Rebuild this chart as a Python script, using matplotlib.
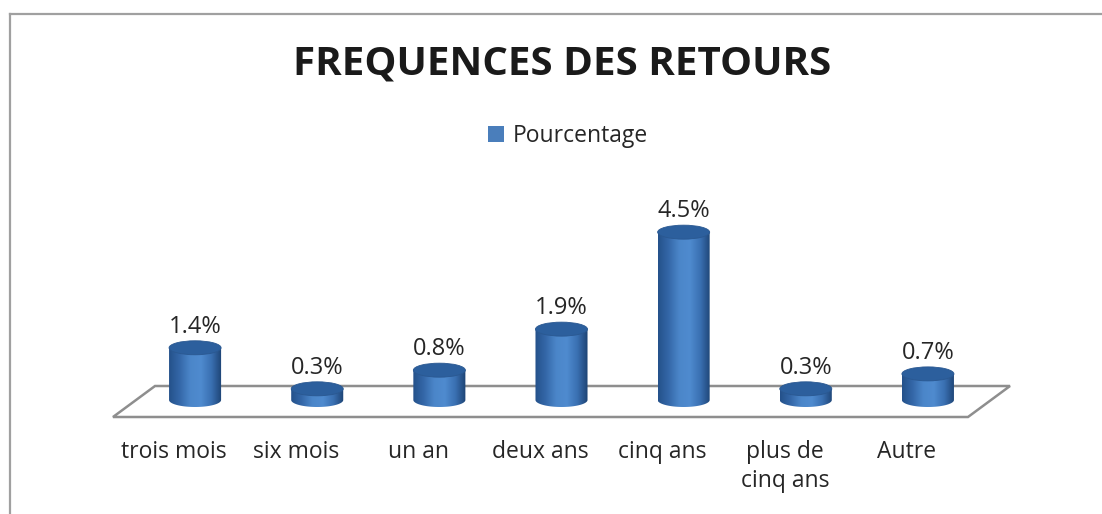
import numpy as np
import matplotlib
matplotlib.use("Agg")
import matplotlib.pyplot as plt
from matplotlib.patches import Ellipse, Polygon, Patch
from matplotlib.lines import Line2D
from matplotlib.colors import LinearSegmentedColormap

plt.rcParams["font.family"] = ["Open Sans", "DejaVu Sans"]

# chart data
categories = ["trois mois", "six mois", "un an", "deux ans", "cinq ans", "plus de\ncinq ans", "Autre"]
values = [1.4, 0.3, 0.8, 1.9, 4.5, 0.3, 0.7]
value_labels = ["1.4%", "0.3%", "0.8%", "1.9%", "4.5%", "0.3%", "0.7%"]
series_name = "Pourcentage"
title = "FREQUENCES DES RETOURS"

W, H = 1102, 514
fig = plt.figure(figsize=(W / 100, H / 100), dpi=100)

# axes placed in pixel terms: x categories -0.5..6.5 over 134..989 px,
# y in percent, 0 at 400 px from top, 37.3 px per percent
PX = 37.3
top_px, bot_px = 130, 440
ax = fig.add_axes([134 / W, (H - bot_px) / H, (989 - 134) / W, (bot_px - top_px) / H])
ylo, yhi = -(bot_px - 400) / PX, (400 - top_px) / PX
ax.axis("off")

# floor (skewed parallelogram)
skew = 0.172
f_back, f_front = 14 / PX, -17 / PX
floor = Polygon([(-0.5 - skew, f_front), (6.5 - skew, f_front),
                 (6.5 + skew, f_back), (-0.5 + skew, f_back)],
                closed=True, facecolor="white", edgecolor="#8e8e8e", lw=1.8, zorder=1,
                clip_on=False)
ax.add_patch(floor)

body_cmap = LinearSegmentedColormap.from_list(
    "cyl", ["#24518a", "#3467a8", "#4b86c9", "#4f8bcf", "#3a70b2", "#1d4373"])
grad = np.linspace(0, 1, 256).reshape(1, -1)

hw = 0.213          # half width of cylinder (data units)
eh = 7 / PX         # half height of ellipse (data units)
t = np.linspace(np.pi, 2 * np.pi, 60)

for i, v in enumerate(values):
    # body outline: bottom half ellipse + vertical sides up to top
    pts = [(i + hw * np.cos(a), eh * np.sin(a)) for a in t]
    pts += [(i + hw, v), (i - hw, v)]
    clip = Polygon(pts, closed=True, transform=ax.transData, facecolor="none", edgecolor="none")
    ax.add_patch(clip)
    im = ax.imshow(grad, cmap=body_cmap, aspect="auto",
                   extent=(i - hw, i + hw, -eh, v), zorder=3, interpolation="bilinear")
    im.set_clip_path(clip)
    top = Ellipse((i, v), 2 * hw, 2 * eh, facecolor="#2c5f9d", edgecolor="#2a5891", lw=0.6, zorder=4)
    ax.add_patch(top)
    ax.text(i, v + eh + 8 / PX, value_labels[i], ha="center", va="baseline",
            fontsize=17, color="#262626", zorder=5)

# category labels sit under the front edge of the floor
for i, c in enumerate(categories):
    ax.text(i - skew, ylo, c, ha="center", va="top", fontsize=16.5, color="#262626",
            linespacing=1.3)

ax.set_xlim(-0.5, 6.5)
ax.set_ylim(ylo, yhi)

fig.text(562 / W, 1 - 64 / H, title, ha="center", va="center",
         fontsize=29, fontweight="bold", color="#1a1a1a")

fig.legend(handles=[Patch(facecolor="#4a7ebb", edgecolor="none")], labels=[series_name],
           loc="center", bbox_to_anchor=(568 / W, 1 - 136 / H), frameon=False,
           handlelength=0.7, handleheight=0.7, handletextpad=0.35, fontsize=16.5,
           labelcolor="#262626")

# chart border (top and left edges visible)
fig.add_artist(Line2D([10 / W, 1], [1 - 14 / H, 1 - 14 / H], color="#a0a0a0", lw=1.6))
fig.add_artist(Line2D([10 / W, 10 / W], [1 - 14 / H, 0], color="#a0a0a0", lw=1.6))

fig.savefig("out.png", dpi=100, facecolor="white")
